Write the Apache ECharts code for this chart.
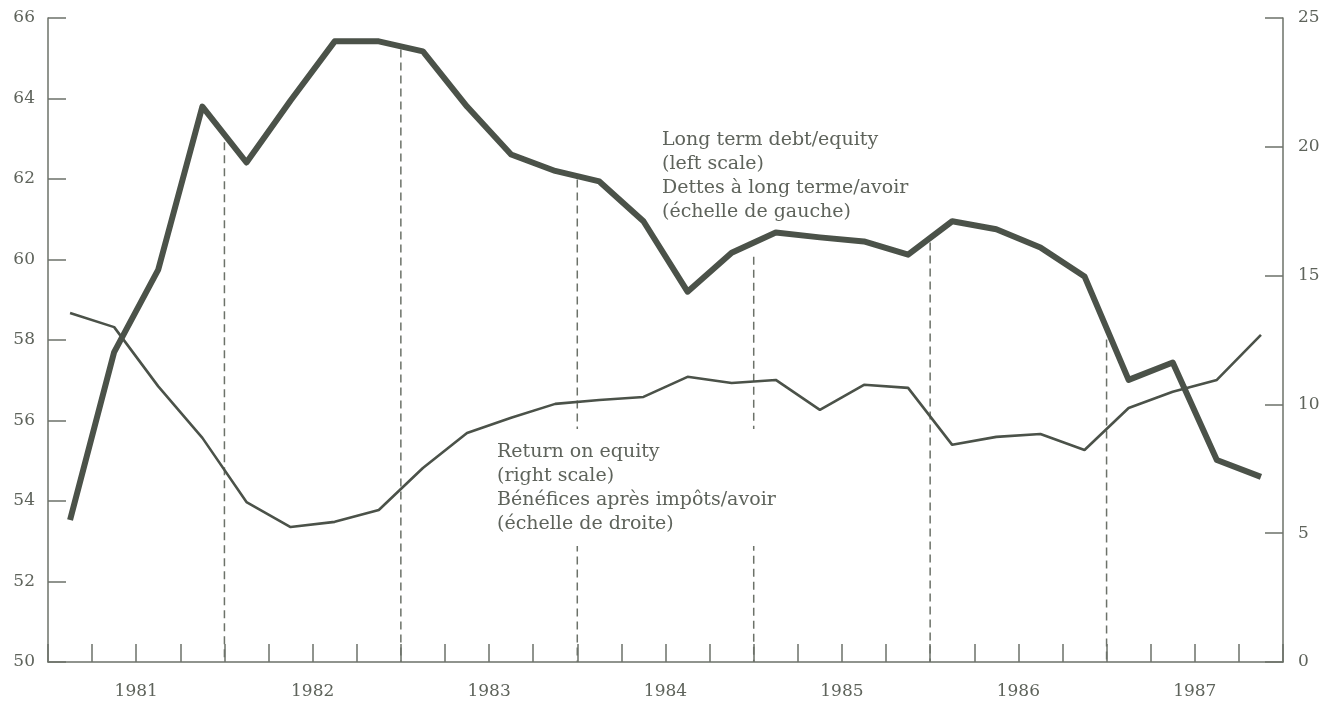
<!DOCTYPE html>
<html><head><meta charset="utf-8">
<script src="https://cdn.jsdelivr.net/npm/echarts@6/dist/echarts.min.js"></script>
<style>html,body{margin:0;padding:0;background:#fff}#c{width:1330px;height:703px}</style>
</head><body><div id="c"></div>
<script>
// ---- data ----
const years = ['1981', '1982', '1983', '1984', '1985', '1986', '1987'];
const quarterNames = ['Q1', 'Q2', 'Q3', 'Q4'];
// Long term debt / equity (left scale), quarterly 1981Q1..1987Q4
const debtEquity = [53.53, 57.7, 59.75, 63.8, 62.41, 63.95, 65.42, 65.42,
                    65.17, 63.8, 62.61, 62.2, 61.94, 60.95, 59.2, 60.17,
                    60.67, 60.55, 60.45, 60.12, 60.95, 60.75, 60.3, 59.58,
                    57.01, 57.44, 55.02, 54.6];
// Return on equity (right scale)
const returnOnEquity = [13.55, 13.0, 10.7, 8.7, 6.21, 5.24, 5.44, 5.9,
                        7.53, 8.89, 9.48, 10.02, 10.17, 10.29, 11.07, 10.83,
                        10.95, 9.79, 10.76, 10.64, 8.43, 8.74, 8.85, 8.23,
                        9.86, 10.49, 10.95, 12.7];
// top of the dashed year dividers (left-scale units)
const dividerTop = [62.91, 65.22, 61.99, 60.07, 60.42, 58.01];
const leftScale = {min: 50, max: 66, interval: 2};
const rightScale = {min: 0, max: 25, interval: 5};
const label1 = 'Long term debt/equity\n(left scale)\nDettes à long terme/avoir\n(échelle de gauche)';
const label2 = 'Return on equity\n(right scale)\nBénéfices après impôts/avoir\n(échelle de droite)';

const quarters = [];
years.forEach(y => quarterNames.forEach(q => quarters.push(y + q)));

const AX = '#6c7269', LINE = '#4b5249', TXT = '#5e635b';
const FONT = 'DejaVu Serif';

const chart = echarts.init(document.getElementById('c'), null, {renderer: 'canvas'});
chart.setOption({
  backgroundColor: '#ffffff',
  animation: false,
  grid: {left: 48, right: 47, top: 18, bottom: 41},
  xAxis: [{
    type: 'category', data: quarters, boundaryGap: true, position: 'bottom',
    axisLine: {show: true, lineStyle: {color: AX, width: 1.5}},
    axisTick: {show: true, inside: true, length: 18, interval: 0, lineStyle: {color: AX, width: 1.5}},
    axisLabel: {show: false}, splitLine: {show: false}
  }, {
    type: 'category', data: years, boundaryGap: true, position: 'bottom',
    axisLine: {show: false}, axisTick: {show: false},
    axisLabel: {show: true, margin: 21, color: TXT, fontFamily: FONT, fontSize: 17},
    splitLine: {show: false}
  }],
  yAxis: [{
    type: 'value', position: 'left', min: leftScale.min, max: leftScale.max, interval: leftScale.interval,
    axisLine: {show: true, lineStyle: {color: AX, width: 1.5}},
    axisTick: {show: true, inside: true, length: 18, lineStyle: {color: AX, width: 1.5}},
    axisLabel: {margin: 13, color: TXT, fontFamily: FONT, fontSize: 17},
    splitLine: {show: false}
  }, {
    type: 'value', position: 'right', min: rightScale.min, max: rightScale.max, interval: rightScale.interval,
    axisLine: {show: true, lineStyle: {color: AX, width: 1.5}},
    axisTick: {show: true, inside: true, length: 18, lineStyle: {color: AX, width: 1.5}},
    axisLabel: {margin: 15, color: TXT, fontFamily: FONT, fontSize: 17},
    splitLine: {show: false}
  }],
  graphic: [
    {type: 'rect', z: 5, shape: {x: 492, y: 429, width: 310, height: 117}, style: {fill: '#ffffff'}},
    {type: 'text', z: 6, left: 662, top: 128,
     style: {text: label1, font: '19px "DejaVu Serif"', fill: TXT, lineHeight: 24}},
    {type: 'text', z: 6, left: 497, top: 440,
     style: {text: label2, font: '19px "DejaVu Serif"', fill: TXT, lineHeight: 24}}
  ],
  series: [{
    type: 'custom', xAxisIndex: 0, yAxisIndex: 0, z: 2, silent: true,
    data: dividerTop.map((v, k) => [k, v]),
    renderItem: function (params, api) {
      const k = api.value(0), v = api.value(1);
      const idx = 4 * k + 3;
      const p1 = api.coord([idx, v]), p2 = api.coord([idx + 1, v]);
      const x = (p1[0] + p2[0]) / 2;
      const bottom = api.coord([idx, leftScale.min])[1];
      return {type: 'line', shape: {x1: x, y1: p1[1], x2: x, y2: bottom},
              style: {stroke: AX, lineWidth: 1.5, lineDash: [8, 5]}};
    }
  }, {
    name: 'Long term debt/equity', type: 'line', xAxisIndex: 0, yAxisIndex: 0, z: 10,
    data: debtEquity, symbol: 'none', smooth: false,
    lineStyle: {color: LINE, width: 6, join: 'round'}
  }, {
    name: 'Return on equity', type: 'line', xAxisIndex: 0, yAxisIndex: 1, z: 10,
    data: returnOnEquity, symbol: 'none', smooth: false,
    lineStyle: {color: LINE, width: 2.6}
  }]
});
</script></body></html>
